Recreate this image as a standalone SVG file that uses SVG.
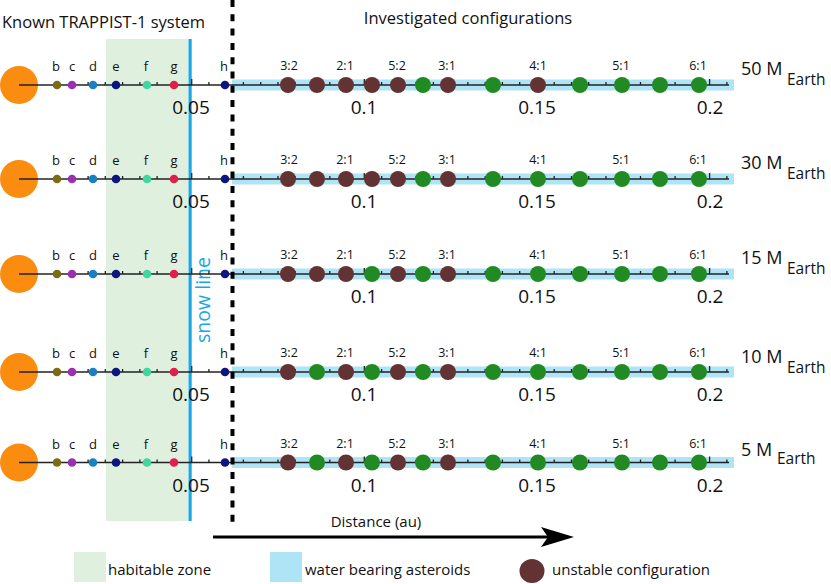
<svg xmlns="http://www.w3.org/2000/svg" xmlns:xlink="http://www.w3.org/1999/xlink" width="831" height="584" viewBox="0 0 831 584">
<style>
text{font-family:"Open Sans","Liberation Sans",sans-serif;fill:#111}
.pl{font-size:13px;text-anchor:middle}
.rt{font-size:12.5px;text-anchor:middle}
.nm{font-size:19px;text-anchor:middle}
.ml{font-size:18px}
.sb{font-size:15.5px}
.hd{font-size:16.5px}
.lg{font-size:15px}
.u{fill:#633232}
.s{fill:#228a22}
.ax{stroke:#222;stroke-width:1.3;fill:none}
</style>
<defs>
<g id="rowbase">
<rect x="232" y="-5.5" width="502" height="11" fill="#afe3f6"/>
<circle cx="19" cy="0" r="19" fill="#fa8c10"/>
<line class="ax" x1="19" y1="0" x2="729" y2="0"/>
<path class="ax" d="M88.1 0v-3M105.3 0v-3M122.6 0v-3M139.9 0v-3M157.1 0v-3M174.4 0v-3M191.7 0v-6M208.9 0v-3M226.2 0v-3M243.4 0v-3M260.7 0v-3M278 0v-3M295.2 0v-3M312.5 0v-3M329.8 0v-3M347 0v-3M364.3 0v-6M381.6 0v-3M398.8 0v-3M416.1 0v-3M433.4 0v-3M450.6 0v-3M467.9 0v-3M485.2 0v-3M502.4 0v-3M519.7 0v-3M537 0v-6M554.2 0v-3M571.5 0v-3M588.7 0v-3M606 0v-3M623.3 0v-3M640.5 0v-3M657.8 0v-3M675.1 0v-3M692.3 0v-3M709.6 0v-6M726.9 0v-3"/>
<circle cx="57" cy="0" r="4.3" fill="#7b6b12"/>
<circle cx="72" cy="0" r="4.3" fill="#9a30b0"/>
<circle cx="93" cy="0" r="4.3" fill="#1b7fc4"/>
<circle cx="116" cy="0" r="4.3" fill="#0d1580"/>
<circle cx="147" cy="0" r="4.3" fill="#3fd6a0"/>
<circle cx="174" cy="0" r="4.3" fill="#e0204c"/>
<circle cx="225" cy="0" r="4.3" fill="#0d1580"/>
<text class="pl" x="56" y="-14">b</text>
<text class="pl" x="72" y="-14">c</text>
<text class="pl" x="93" y="-14">d</text>
<text class="pl" x="116" y="-14">e</text>
<text class="pl" x="146" y="-14">f</text>
<text class="pl" x="174" y="-14">g</text>
<text class="pl" x="224" y="-14">h</text>
<text class="rt" x="289" y="-15">3:2</text>
<text class="rt" x="345" y="-15">2:1</text>
<text class="rt" x="397" y="-15">5:2</text>
<text class="rt" x="447" y="-15">3:1</text>
<text class="rt" x="538" y="-15">4:1</text>
<text class="rt" x="621" y="-15">5:1</text>
<text class="rt" x="698" y="-15">6:1</text>
<text class="nm" x="364" y="29">0.1</text>
<text class="nm" x="537" y="29">0.15</text>
<text class="nm" x="710" y="29">0.2</text>
</g>
</defs>

<g id="habitable-zone"><rect x="106" y="39" width="82" height="482" fill="#dff0de"/></g>
<g id="snow-line">
<rect x="188.5" y="39" width="3.2" height="482" fill="#18a8e2"/>
<text transform="translate(210,300) rotate(-90)" text-anchor="middle" style="font-size:19.5px;fill:#18a8e2">snow line</text>
</g>

<text class="hd" x="2" y="28">Known TRAPPIST-1 system</text>
<text class="hd" x="468" y="24" text-anchor="middle">Investigated configurations</text>

<g id="row-50">
<use href="#rowbase" xlink:href="#rowbase" transform="translate(0,85)"/>
<g transform="translate(0,85)">
<circle class="u" cx="288" cy="0" r="8"/><circle class="u" cx="317" cy="0" r="8"/><circle class="u" cx="346" cy="0" r="8"/><circle class="u" cx="372" cy="0" r="8"/><circle class="u" cx="398" cy="0" r="8"/><circle class="s" cx="423" cy="0" r="8"/><circle class="u" cx="448" cy="0" r="8"/><circle class="s" cx="493" cy="0" r="8"/><circle class="u" cx="538" cy="0" r="8"/><circle class="s" cx="580" cy="0" r="8"/><circle class="s" cx="622" cy="0" r="8"/><circle class="s" cx="660" cy="0" r="8"/><circle class="s" cx="699" cy="0" r="8"/>
<text class="nm" x="191" y="29">0.05</text>
<text class="ml" x="741" y="-10">50 M</text><text class="sb" x="787" y="0">Earth</text>
</g>
</g>

<g id="row-30">
<use href="#rowbase" xlink:href="#rowbase" transform="translate(0,179)"/>
<g transform="translate(0,179)">
<circle class="u" cx="288" cy="0" r="8"/><circle class="u" cx="317" cy="0" r="8"/><circle class="u" cx="346" cy="0" r="8"/><circle class="u" cx="372" cy="0" r="8"/><circle class="u" cx="398" cy="0" r="8"/><circle class="s" cx="423" cy="0" r="8"/><circle class="u" cx="448" cy="0" r="8"/><circle class="s" cx="493" cy="0" r="8"/><circle class="s" cx="538" cy="0" r="8"/><circle class="s" cx="580" cy="0" r="8"/><circle class="s" cx="622" cy="0" r="8"/><circle class="s" cx="660" cy="0" r="8"/><circle class="s" cx="699" cy="0" r="8"/>
<text class="nm" x="191" y="29">0.05</text>
<text class="ml" x="741" y="-10">30 M</text><text class="sb" x="787" y="0">Earth</text>
</g>
</g>

<g id="row-15">
<use href="#rowbase" xlink:href="#rowbase" transform="translate(0,274)"/>
<g transform="translate(0,274)">
<circle class="u" cx="288" cy="0" r="8"/><circle class="u" cx="317" cy="0" r="8"/><circle class="u" cx="346" cy="0" r="8"/><circle class="s" cx="372" cy="0" r="8"/><circle class="u" cx="398" cy="0" r="8"/><circle class="s" cx="423" cy="0" r="8"/><circle class="u" cx="448" cy="0" r="8"/><circle class="s" cx="493" cy="0" r="8"/><circle class="s" cx="538" cy="0" r="8"/><circle class="s" cx="580" cy="0" r="8"/><circle class="s" cx="622" cy="0" r="8"/><circle class="s" cx="660" cy="0" r="8"/><circle class="s" cx="699" cy="0" r="8"/>
<text class="ml" x="741" y="-10">15 M</text><text class="sb" x="787" y="0">Earth</text>
</g>
</g>

<g id="row-10">
<use href="#rowbase" xlink:href="#rowbase" transform="translate(0,372)"/>
<g transform="translate(0,372)">
<circle class="u" cx="288" cy="0" r="8"/><circle class="s" cx="317" cy="0" r="8"/><circle class="u" cx="346" cy="0" r="8"/><circle class="s" cx="372" cy="0" r="8"/><circle class="u" cx="398" cy="0" r="8"/><circle class="s" cx="423" cy="0" r="8"/><circle class="u" cx="448" cy="0" r="8"/><circle class="s" cx="493" cy="0" r="8"/><circle class="s" cx="538" cy="0" r="8"/><circle class="s" cx="580" cy="0" r="8"/><circle class="s" cx="622" cy="0" r="8"/><circle class="s" cx="660" cy="0" r="8"/><circle class="s" cx="699" cy="0" r="8"/>
<text class="nm" x="191" y="29">0.05</text>
<text class="ml" x="741" y="-9">10 M</text><text class="sb" x="787" y="1">Earth</text>
</g>
</g>

<g id="row-5">
<use href="#rowbase" xlink:href="#rowbase" transform="translate(0,462.5)"/>
<g transform="translate(0,462.5)">
<circle class="u" cx="288" cy="0" r="8"/><circle class="s" cx="317" cy="0" r="8"/><circle class="u" cx="346" cy="0" r="8"/><circle class="s" cx="372" cy="0" r="8"/><circle class="u" cx="398" cy="0" r="8"/><circle class="s" cx="423" cy="0" r="8"/><circle class="u" cx="448" cy="0" r="8"/><circle class="s" cx="493" cy="0" r="8"/><circle class="s" cx="538" cy="0" r="8"/><circle class="s" cx="580" cy="0" r="8"/><circle class="s" cx="622" cy="0" r="8"/><circle class="s" cx="660" cy="0" r="8"/><circle class="s" cx="699" cy="0" r="8"/>
<text class="nm" x="191" y="29">0.05</text>
<text class="ml" x="741" y="-7">5 M</text><text class="sb" x="777" y="1">Earth</text>
</g>
</g>

<g id="divider"><line x1="232.5" y1="0" x2="232.5" y2="523" stroke="#000" stroke-width="4" stroke-dasharray="7 7.3"/></g>

<g id="connectors">
<line x1="213" y1="537" x2="550" y2="537" stroke="#000" stroke-width="3"/>
<path d="M574 537 L541 527 L548 537 L541 547 Z" fill="#000"/>
</g>
<text x="376" y="527" text-anchor="middle" style="font-size:15px">Distance (au)</text>

<g id="legend">
<rect x="74" y="552" width="32" height="30" fill="#dff0de"/>
<text class="lg" x="108" y="575">habitable zone</text>
<rect x="270" y="552" width="32" height="30" fill="#afe3f6"/>
<text class="lg" x="305" y="575">water bearing asteroids</text>
<ellipse class="u" cx="532" cy="571" rx="12.5" ry="12"/>
<text class="lg" x="552" y="575">unstable configuration</text>
</g>
</svg>
